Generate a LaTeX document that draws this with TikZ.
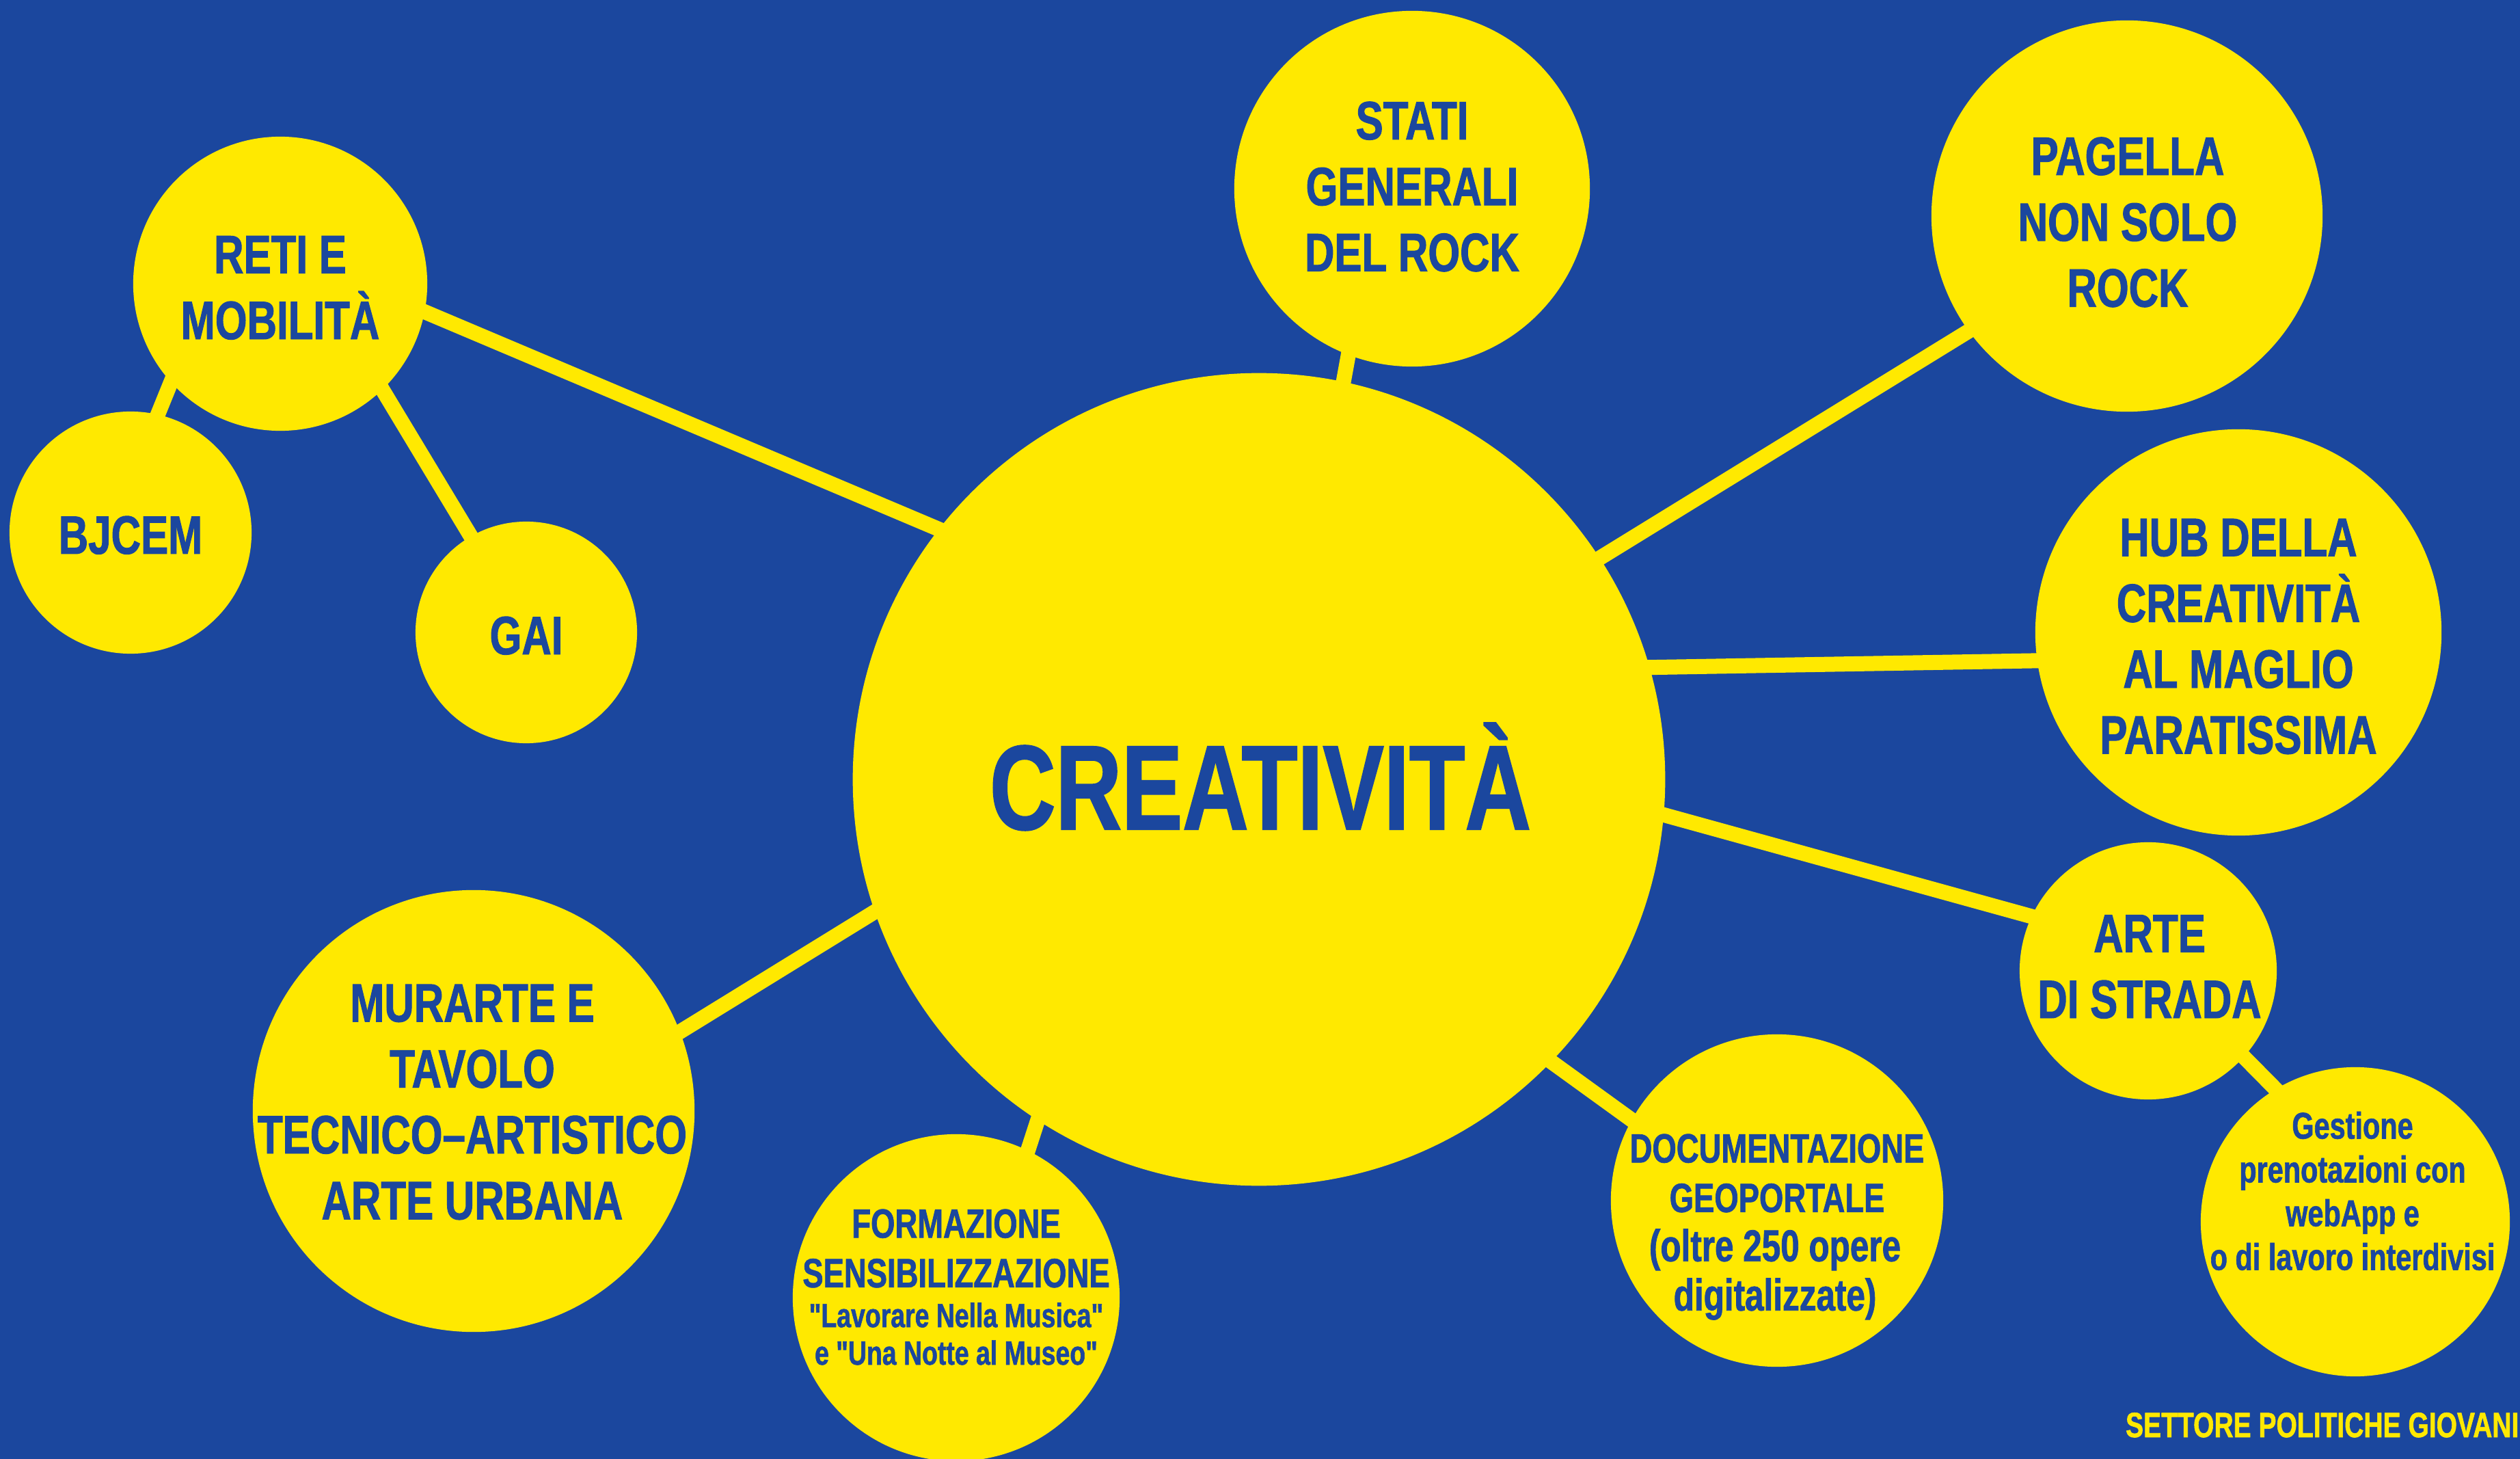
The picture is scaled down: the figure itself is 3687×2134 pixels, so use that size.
\documentclass[tikz,border=0pt]{standalone}
\usepackage{fontspec}
\setmainfont{Liberation Sans}[FakeStretch=0.76, Ligatures=TeXOff, BoldFeatures={FakeBold=1.2}]
\usepackage{tikz}
\usetikzlibrary{positioning}
\definecolor{blu}{RGB}{27,71,158}
\definecolor{yel}{RGB}{255,233,0}
\pgfdeclarelayer{back}
\pgfdeclarelayer{links}
\pgfsetlayers{back,links,main}
\tikzstyle{bubble} = [circle, fill=yel, inner sep=0pt, outer sep=0pt]
\tikzstyle{big} = [text=blu, inner sep=0pt, font=\bfseries\fontsize{50}{60}\selectfont]
\tikzstyle{caps} = [text=blu, align=center, inner sep=0pt, font=\bfseries\fontsize{22.5}{27.4}\selectfont]
\tikzstyle{medcaps} = [text=blu, align=center, inner sep=0pt, font=\bfseries\fontsize{17}{20.6}\selectfont]
\tikzstyle{docsub} = [text=blu, align=center, inner sep=0pt, font=\bfseries\fontsize{18.5}{20.5}\selectfont]
\tikzstyle{formsub} = [text=blu, align=center, inner sep=0pt, font=\bfseries\fontsize{14}{15.6}\selectfont]
\tikzstyle{gestsub} = [text=blu, align=center, inner sep=0pt, font=\bfseries\fontsize{15.5}{18.2}\selectfont]
\tikzstyle{footer} = [text=yel, inner sep=0pt, font=\bfseries\fontsize{14.6}{17}\selectfont]
\tikzstyle{link} = [draw=yel, line width=0.22cm, shorten <=-0.15cm, shorten >=-0.15cm]

\begin{document}
\begin{tikzpicture}[x=0.01cm, y=-0.01cm]
\useasboundingbox (0,0) rectangle (3687,2134);
\begin{pgfonlayer}{back}
\fill[blu] (0,0) rectangle (3687,2134);
\end{pgfonlayer}

% circles
\node (crea) [bubble, minimum size=11.88cm] at (1842,1140) {};
\node (reti) [bubble, minimum size=4.30cm] at (410,415) {};
\node (bjcem) [bubble, minimum size=3.54cm] at (191,779) {};
\node (gai) [bubble, minimum size=3.24cm] at (770,925) {};
\node (stati) [bubble, minimum size=5.20cm] at (2066,276) {};
\node (pagella) [bubble, minimum size=5.72cm] at (3112,316) {};
\node (hub) [bubble, minimum size=5.94cm] at (3275,925) {};
\node (arte) [bubble, minimum size=3.76cm] at (3143,1420) {};
\node (gest) [bubble, minimum size=4.52cm] at (3446,1787) {};
\node (doc) [bubble, minimum size=4.86cm] at (2600,1756) {};
\node (form) [bubble, minimum size=4.78cm] at (1399,1898) {};
\node (murarte) [bubble, minimum size=6.46cm] at (693,1625) {};

% texts
\node (creatxt) [big, anchor=base] at (1844,1213) {CREATIVITÀ};
\node (retitxt) [caps] at (410,421) {RETI E\\MOBILITÀ};
\node (bjcemtxt) [caps, anchor=base] at (191,810) {BJCEM};
\node (gaitxt) [caps, anchor=base] at (770,957) {GAI};
\node (statitxt) [caps] at (2066,273) {STATI\\GENERALI\\DEL ROCK};
\node (pagellatxt) [caps] at (3113,325) {PAGELLA\\NON SOLO\\ROCK};
\node (hubtxt) [caps] at (3275,931) {HUB DELLA\\CREATIVITÀ\\AL MAGLIO\\PARATISSIMA};
\node (artetxt) [caps] at (3145,1414) {ARTE\\DI STRADA};
\node (murartetxt) [caps] at (691,1612) {MURARTE E\\TAVOLO\\TECNICO–ARTISTICO\\ARTE URBANA};
\node (doctxt) [medcaps] at (2600,1716) {DOCUMENTAZIONE\\GEOPORTALE};
\node (docsubtxt) [docsub] at (2597,1864) {(oltre 250 opere\\digitalizzate)};
\node (formtxt) [medcaps] at (1399,1826) {FORMAZIONE\\SENSIBILIZZAZIONE};
\node (formsubtxt) [formsub] at (1399,1951) {"Lavorare Nella Musica"\\e "Una Notte al Museo"};
\node (gesttxt) [gestsub] at (3442,1742) {Gestione\\prenotazioni con\\webApp e\\o di lavoro interdivisi};
\node (settore) [footer, anchor=base east] at (3686,2102) {SETTORE POLITICHE GIOVANI};

% connectors
\begin{pgfonlayer}{links}
\draw [link] (reti.349.9) -- (crea.142.1);
\draw [link] (reti.222.5) -- (bjcem.77);
\draw [link] (reti.314.6) -- (gai.120.6);
\draw [link] (stati.249.2) -- (crea.78.5);
\draw [link] (pagella.216.4) -- (crea.33.6);
\draw [link] (hub.188) -- (crea.16.8);
\draw [link] (arte.155.8) -- (crea.355.2);
\draw [link] (arte.318.6) -- (gest.121.3);
\draw [link] (doc.151.2) -- (crea.316.7);
\draw [link] (form.64.5) -- (crea.237.8);
\draw [link] (murarte.21.3) -- (crea.199.8);
\end{pgfonlayer}
\end{tikzpicture}
\end{document}
